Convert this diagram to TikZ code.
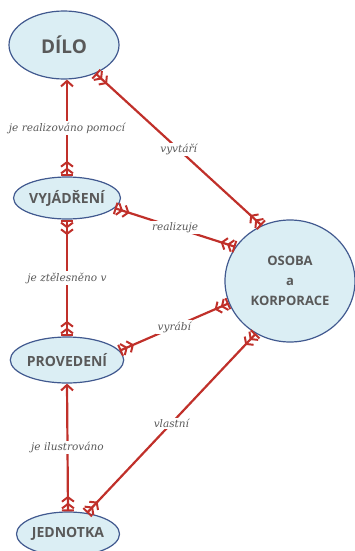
\documentclass[tikz,border=0pt]{standalone}
\usepackage{fontspec}
\setmainfont{DejaVu Serif}
\newfontfamily\boxfont{Open Sans}
\usetikzlibrary{arrows.meta, shapes.geometric, positioning}

\definecolor{linkred}{HTML}{C0302A}
\definecolor{boxfill}{HTML}{DBEEF4}
\definecolor{boxline}{HTML}{41598F}
\definecolor{txtgray}{HTML}{595959}

\tikzset{
  entity/.style={draw=boxline, line width=1.2pt, fill=boxfill, ellipse, inner sep=0pt,
    text=txtgray, font=\boxfont\bfseries\fontsize{14}{20}\selectfont, align=center},
  link/.style={draw=linkred, line width=2.2pt},
  many/.tip={Straight Barb[reversed,length=4.5pt,width=12pt,line width=2pt]
    Straight Barb[reversed,length=4.5pt,width=12pt,line width=2pt]
    Bar[width=12pt,line width=2pt]},
  one/.tip={Straight Barb[length=5.5pt,width=12pt,line width=2pt]},
  verb/.style={fill=white, inner sep=1.5pt, text=txtgray,
    font=\itshape\fontsize{10.5}{12}\selectfont}
}

\begin{document}
\begin{tikzpicture}[x=1pt,y=1pt]
        \useasboundingbox (0,0) rectangle (354,-551);
        \node[entity, minimum width=110pt, minimum height=68pt,
              font=\boxfont\bfseries\fontsize{19}{22}\selectfont] (dilo) at (64,-45) {DÍLO};
        \node[entity, minimum width=104pt, minimum height=42pt] (vyjadreni) at (67,-198) {VYJÁDŘENÍ};
        \node[entity, minimum width=112pt, minimum height=46pt] (provedeni) at (67,-360) {PROVEDENÍ};
        \node[entity, minimum width=103pt, minimum height=44pt] (jednotka) at (68,-534) {JEDNOTKA};
        \node[entity, minimum width=130pt, minimum height=122pt,
              font=\boxfont\bfseries\fontsize{13}{20}\selectfont] (osoba) at (290,-281) {OSOBA\\a\\KORPORACE};
        % vztahy mezi entitami
        \draw[link,{one}-{many}] (vyjadreni.north |- dilo.south) -- node[verb,midway]{je realizováno pomocí} (vyjadreni.north);
        \draw[link,{many}-{many}] (dilo.-42) -- node[verb,midway]{vyvtáří} (osoba.117);
        \draw[link,{many}-{many}] (vyjadreni.-12) -- node[verb,midway]{realizuje} (osoba.148);
        \draw[link,{many}-{many}] (vyjadreni.south) -- node[verb,midway]{je ztělesněno v} (provedeni.north);
        \draw[link,{many}-{many}] (provedeni.10) -- node[verb,midway]{vyrábí} (osoba.200);
        \draw[link,{one}-{many}] (provedeni.south) -- node[verb,midway]{je ilustrováno} (jednotka.north);
        \draw[link,{many}-{many}] (jednotka.48) -- node[verb,midway]{vlastní} (osoba.-123);
\end{tikzpicture}
\end{document}
